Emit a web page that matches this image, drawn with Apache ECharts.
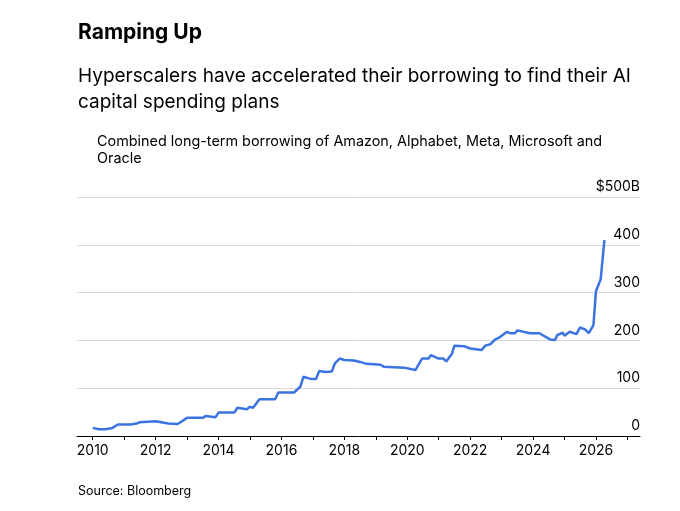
<!DOCTYPE html>
<html><head><meta charset="utf-8">
<script src="https://cdn.jsdelivr.net/npm/echarts@6/dist/echarts.min.js"></script>
<style>html,body{margin:0;padding:0;background:#fff}#c{width:680px;height:511px}</style>
</head><body><div id="c"></div>
<script>
const years = [2010,2010.2,2010.4,2010.6,2010.8,2011.2,2011.25,2011.4,2011.5,2012.0,2012.4,2012.7,2013.0,2013.5,2013.6,2013.9,2014.0,2014.5,2014.6,2014.9,2015.0,2015.1,2015.3,2015.8,2015.9,2016.4,2016.6,2016.7,2016.9,2017.1,2017.2,2017.4,2017.6,2017.7,2017.85,2018.0,2018.3,2018.5,2018.7,2018.93,2019.15,2019.25,2019.9,2020.26,2020.47,2020.68,2020.75,2021.0,2021.15,2021.24,2021.42,2021.5,2021.8,2022.0,2022.37,2022.48,2022.64,2022.8,2022.95,2023.17,2023.27,2023.43,2023.5,2023.9,2024.2,2024.54,2024.7,2024.77,2024.94,2025.0,2025.17,2025.38,2025.49,2025.65,2025.77,2025.92,2026.0,2026.15,2026.27];
const borrowing = [17,14,14,16,24,24,26,26,29,31,26,25,38,38,42,39,49,49,59,56,61,59,77,77,91,91,103,124,120,119,136,134,135,152,162,159,158,155,151,150,149,145,143,138,162,162,169,162,162,156,172,189,188,183,180,189,192,202,207,218,215,215,221,215,215,202,201,211,216,210,218,213,227,223,215,232,303,328,410];
const yTicks = [0,100,200,300,400,500];
const xLabelYears = [2010,2012,2014,2016,2018,2020,2022,2024,2026];
const xTickYears = [2010,2011,2012,2013,2014,2015,2016,2017,2018,2019,2020,2021,2022,2023,2024,2025,2026,2027];
const font = 'Inter, "Liberation Sans", sans-serif';
const chart = echarts.init(document.getElementById('c'));
chart.setOption({
  animation:false,
  textStyle:{fontFamily:font},
  graphic:[
    {type:'text',left:78,top:22,style:{text:'Ramping Up',font:'bold 21px '+font,fill:'#000'}},
    {type:'text',left:78,top:63,style:{text:'Hyperscalers have accelerated their borrowing to find their AI\ncapital spending plans',font:'19px '+font,fill:'#000',lineHeight:26}},
    {type:'text',left:97,top:133,style:{text:'Combined long-term borrowing of Amazon, Alphabet, Meta, Microsoft and\nOracle',font:'14.4px '+font,fill:'#000',lineHeight:17}},
    {type:'text',left:78,top:485,style:{text:'Source: Bloomberg',font:'12.5px '+font,fill:'#000'}}
  ],
  grid:{left:77,right:40,top:197,bottom:75},
  xAxis:{type:'value',min:2009.5,max:2027.4,
    axisLine:{lineStyle:{color:'#000',width:1}},
    axisTick:{show:true,customValues:xTickYears,length:4,lineStyle:{color:'#000'}},
    axisLabel:{customValues:xLabelYears,color:'#000',fontSize:14,margin:8,formatter:v=>String(v)},
    splitLine:{show:false}},
  yAxis:{type:'value',position:'right',min:0,max:500,interval:100,
    axisLine:{show:false},axisTick:{show:false},
    axisLabel:{inside:true,verticalAlign:'bottom',margin:0,color:'#000',fontSize:14,padding:[0,0,3,0],
      formatter:v=>v===500?'$500B':String(v)},
    splitLine:{lineStyle:{color:'#d9d9d9',width:1}}},
  series:[{type:'line',data:years.map((y,i)=>[y,borrowing[i]]),showSymbol:false,
    lineStyle:{color:'#3b73e0',width:2.5},itemStyle:{color:'#3b73e0'}}]
});
</script></body></html>
